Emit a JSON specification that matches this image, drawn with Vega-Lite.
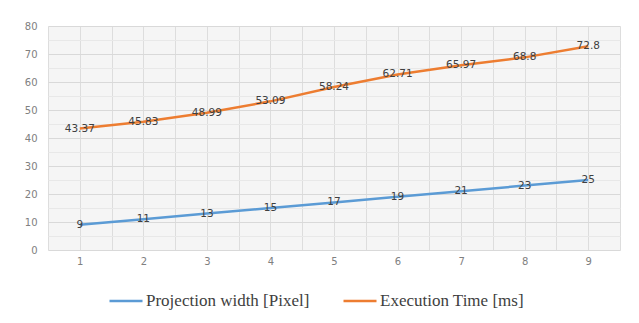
{
  "$schema": "https://vega.github.io/schema/vega-lite/v6.json",
  "autosize": "none",
  "width": 572,
  "height": 224,
  "padding": {"left": 48, "top": 26, "right": 19, "bottom": 73},
  "background": "white",
  "config": {
    "view": {"fill": "#f5f5f5", "stroke": null},
    "axis": {
      "domain": false,
      "ticks": false,
      "gridColor": "#dddddd",
      "gridWidth": 1,
      "labelFont": "DejaVu Sans",
      "labelFontSize": 10,
      "labelColor": "#808080",
      "title": null
    }
  },
  "data": {
    "values": [
      {"x": 1, "series": "Projection width [Pixel]", "value": 9},
      {"x": 2, "series": "Projection width [Pixel]", "value": 11},
      {"x": 3, "series": "Projection width [Pixel]", "value": 13},
      {"x": 4, "series": "Projection width [Pixel]", "value": 15},
      {"x": 5, "series": "Projection width [Pixel]", "value": 17},
      {"x": 6, "series": "Projection width [Pixel]", "value": 19},
      {"x": 7, "series": "Projection width [Pixel]", "value": 21},
      {"x": 8, "series": "Projection width [Pixel]", "value": 23},
      {"x": 9, "series": "Projection width [Pixel]", "value": 25},
      {"x": 1, "series": "Execution Time [ms]", "value": 43.37},
      {"x": 2, "series": "Execution Time [ms]", "value": 45.83},
      {"x": 3, "series": "Execution Time [ms]", "value": 48.99},
      {"x": 4, "series": "Execution Time [ms]", "value": 53.09},
      {"x": 5, "series": "Execution Time [ms]", "value": 58.24},
      {"x": 6, "series": "Execution Time [ms]", "value": 62.71},
      {"x": 7, "series": "Execution Time [ms]", "value": 65.97},
      {"x": 8, "series": "Execution Time [ms]", "value": 68.8},
      {"x": 9, "series": "Execution Time [ms]", "value": 72.8}
    ]
  },
  "encoding": {
    "x": {
      "field": "x",
      "type": "quantitative",
      "scale": {"domain": [0.5, 9.5], "nice": false, "zero": false},
      "axis": {
        "values": [0.5, 1, 1.5, 2, 2.5, 3, 3.5, 4, 4.5, 5, 5.5, 6, 6.5, 7, 7.5, 8, 8.5, 9, 9.5],
        "labelExpr": "datum.value % 1 == 0 ? format(datum.value, 'd') : ''",
        "labelOverlap": false,
        "labelPadding": 6
      }
    },
    "y": {
      "field": "value",
      "type": "quantitative",
      "scale": {"domain": [0, 80], "nice": false},
      "axis": {
        "values": [0, 5, 10, 15, 20, 25, 30, 35, 40, 45, 50, 55, 60, 65, 70, 75, 80],
        "labelExpr": "datum.value % 10 == 0 ? datum.label : ''",
        "labelOverlap": false,
        "labelPadding": 11,
        "gridColor": {"condition": {"test": "datum.value % 10 == 0", "value": "#d9d9d9"}, "value": "#e8e8e8"}
      }
    }
  },
  "layer": [
    {
      "mark": {"type": "line", "strokeWidth": 2.5},
      "encoding": {
        "color": {
          "field": "series",
          "type": "nominal",
          "sort": ["Projection width [Pixel]", "Execution Time [ms]"],
          "scale": {"domain": ["Projection width [Pixel]", "Execution Time [ms]"], "range": ["#5b9bd5", "#ed7d31"]},
          "legend": {
            "title": null,
            "orient": "none",
            "direction": "horizontal",
            "legendX": 60,
            "legendY": 257,
            "symbolType": "stroke",
            "symbolSize": 1089,
            "symbolStrokeWidth": 2.5,
            "labelFont": "Liberation Serif",
            "labelFontSize": 17,
            "labelColor": "#404040",
            "labelOffset": 2,
            "labelLimit": 400,
            "columnPadding": 28
          }
        }
      }
    },
    {
      "mark": {"type": "text", "font": "DejaVu Sans", "fontSize": 10.5, "color": "#404040"},
      "encoding": {"text": {"field": "value", "type": "quantitative"}}
    }
  ]
}
